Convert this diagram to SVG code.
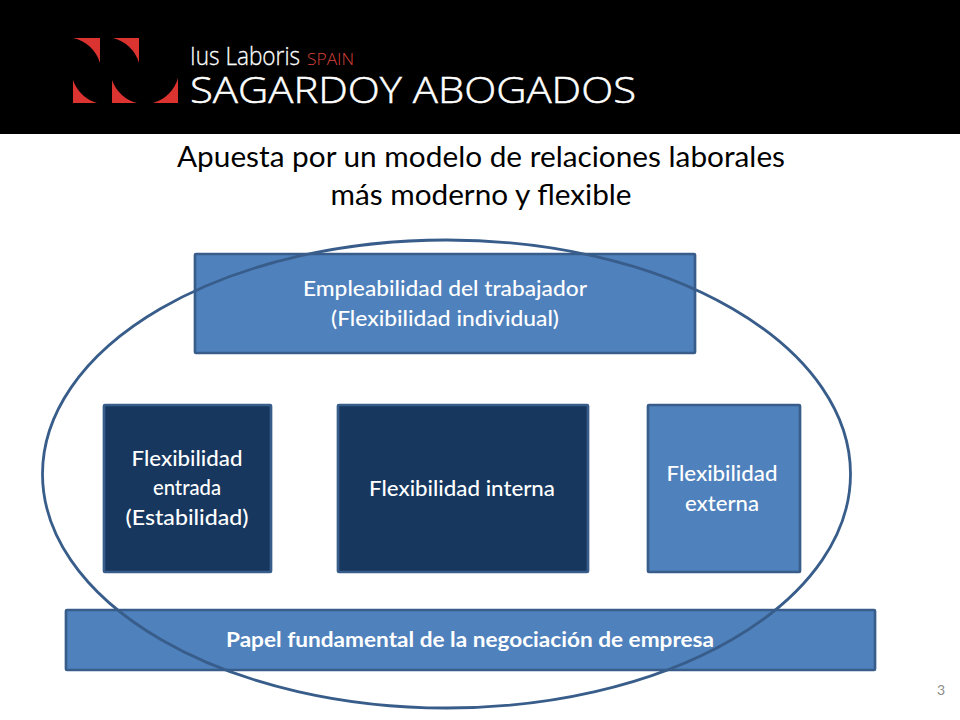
<svg xmlns="http://www.w3.org/2000/svg" width="960" height="720" viewBox="0 0 960 720">
<style>
.box{stroke:#385d8a;stroke-width:2.7}
.mid{fill:#4f81bd}
.dark{fill:#17375e}
.t{font-family:"Lato","Open Sans",sans-serif;fill:#fff;font-size:20.500px;text-anchor:middle;font-weight:500}
.title{font-family:"Lato","Open Sans",sans-serif;fill:#000;font-size:29px;text-anchor:middle}
.logo{fill:#db332f}
.lt{font-family:"Open Sans","Noto Sans",sans-serif}
</style>
<rect width="960" height="720" fill="#fff"/>
<g id="header">
<rect width="960" height="134" fill="#000"/>
<path class="logo" d="M73 38H100V63A36 36 0 0 0 73 38Z"/>
<path class="logo" d="M113 38H139V63A36 36 0 0 0 113 38Z"/>
<path class="logo" d="M73 80V103H97A36 36 0 0 1 73 80Z"/>
<path class="logo" d="M112 80V103H137A36 36 0 0 1 112 80Z"/>
<path class="logo" d="M178 78V103H153A36 36 0 0 0 178 78Z"/>
<text class="lt" x="190" y="65" font-size="26" font-weight="300" fill="#fff" stroke="#fff" stroke-width="0.300" textLength="110" lengthAdjust="spacingAndGlyphs">Ius Laboris</text>
<text class="lt" x="307" y="65" font-size="17" font-weight="300" fill="#d9403a" textLength="47" lengthAdjust="spacingAndGlyphs">SPAIN</text>
<text class="lt" x="190" y="103" font-size="37" font-weight="300" fill="#fff" stroke="#fff" stroke-width="0.500" textLength="446" lengthAdjust="spacingAndGlyphs">SAGARDOY ABOGADOS</text>
</g>
<g id="title">
<text class="title" x="481" y="167" textLength="608" lengthAdjust="spacingAndGlyphs">Apuesta por un modelo de relaciones laborales</text>
<text class="title" x="481" y="205" textLength="301" lengthAdjust="spacingAndGlyphs">más moderno y flexible</text>
</g>
<g id="node-empleabilidad">
<rect class="box mid" x="195" y="254" width="500" height="99" rx="1"/>
</g>
<g id="node-entrada">
<rect class="box dark" x="104" y="405" width="167" height="167" rx="1"/>
<text class="t" x="187" y="466" textLength="111" lengthAdjust="spacingAndGlyphs">Flexibilidad</text>
<text class="t" x="187" y="495" textLength="68" lengthAdjust="spacingAndGlyphs">entrada</text>
<text class="t" x="187" y="525" textLength="123" lengthAdjust="spacingAndGlyphs">(Estabilidad)</text>
</g>
<g id="node-interna">
<rect class="box dark" x="338" y="405" width="250" height="167" rx="1"/>
<text class="t" x="462" y="496" textLength="186" lengthAdjust="spacingAndGlyphs">Flexibilidad interna</text>
</g>
<g id="node-externa">
<rect class="box mid" x="648" y="405" width="152" height="167" rx="1"/>
<text class="t" x="722" y="481" textLength="111" lengthAdjust="spacingAndGlyphs">Flexibilidad</text>
<text class="t" x="722" y="511" textLength="74" lengthAdjust="spacingAndGlyphs">externa</text>
</g>
<g id="node-papel">
<rect class="box mid" x="66" y="610" width="809" height="60" rx="1"/>
</g>
<g id="connectors">
<ellipse cx="446.500" cy="474" rx="404" ry="234" fill="none" stroke="#385d8a" stroke-width="2.800"/>
</g>
<g id="labels">
<text class="t" x="445" y="296" textLength="284" lengthAdjust="spacingAndGlyphs">Empleabilidad del trabajador</text>
<text class="t" x="445" y="326" textLength="228" lengthAdjust="spacingAndGlyphs">(Flexibilidad individual)</text>
<text class="t" x="470" y="647" textLength="488" lengthAdjust="spacingAndGlyphs" style="font-weight:700">Papel fundamental de la negociación de empresa</text>
</g>
<text x="941" y="695" font-family="Lato,sans-serif" font-size="14" fill="#8b8b8b" text-anchor="middle">3</text>
</svg>
